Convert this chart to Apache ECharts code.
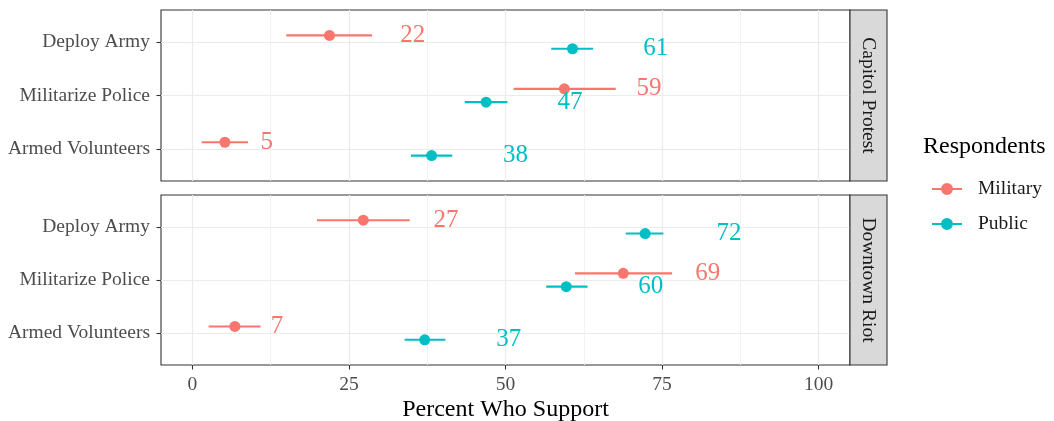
<!DOCTYPE html>
<html>
<head>
<meta charset="utf-8">
<script src="https://cdn.jsdelivr.net/npm/echarts@6/dist/echarts.min.js"></script>
<style>
html,body{margin:0;padding:0;background:#fff;}
#chart{width:1054px;height:421px;}
</style>
</head>
<body>
<div id="chart"></div>
<script>
// ---- data ----
const categories = ['Deploy Army', 'Militarize Police', 'Armed Volunteers'];
const panels = ['Capitol Protest', 'Downtown Riot'];
const groups = ['Military', 'Public'];
const xTicks = [0, 25, 50, 75, 100];
const xMinorTicks = [12.5, 37.5, 62.5, 87.5];

// Capitol Protest
const capMilitary   = [21.9, 59.4, 5.2];
const capMilitaryLo = [15.0, 51.3, 1.5];
const capMilitaryHi = [28.7, 67.6, 8.9];
const capMilitaryLabelX = [35.2, 72.9, 11.9];
const capPublic   = [60.7, 46.9, 38.2];
const capPublicLo = [57.3, 43.5, 34.9];
const capPublicHi = [64.0, 50.3, 41.5];
const capPublicLabelX = [74.0, 60.3, 51.6];

// Downtown Riot
const riotMilitary   = [27.3, 68.8, 6.8];
const riotMilitaryLo = [19.9, 61.1, 2.6];
const riotMilitaryHi = [34.7, 76.6, 10.9];
const riotMilitaryLabelX = [40.5, 82.3, 13.5];
const riotPublic   = [72.3, 59.7, 37.1];
const riotPublicLo = [69.2, 56.5, 33.9];
const riotPublicHi = [75.2, 63.1, 40.4];
const riotPublicLabelX = [85.7, 73.2, 50.5];

// ---- styling ----
const colors = { Military: '#F8766D', Public: '#00BFC4' };
const FONT = 'Liberation Serif, Times New Roman, serif';
const dodge = { Military: -0.125, Public: 0.125 };

const panelData = [
  { Military: [capMilitary, capMilitaryLo, capMilitaryHi, capMilitaryLabelX],
    Public:   [capPublic, capPublicLo, capPublicHi, capPublicLabelX] },
  { Military: [riotMilitary, riotMilitaryLo, riotMilitaryHi, riotMilitaryLabelX],
    Public:   [riotPublic, riotPublicLo, riotPublicHi, riotPublicLabelX] }
];

const gridBoxes = [
  { left: 161, top: 10, width: 689, height: 171 },
  { left: 161, top: 195, width: 689, height: 170 }
];

const grids = gridBoxes.map(g => Object.assign({
  show: true, borderColor: '#333333', borderWidth: 1.1,
  backgroundColor: 'transparent', containLabel: false, outerBoundsMode: 'none'
}, g));

const xAxes = [];
const yAxes = [];
gridBoxes.forEach((g, p) => {
  const isBottom = p === gridBoxes.length - 1;
  xAxes.push({
    type: 'value', gridIndex: p, min: -5, max: 105,
    axisLine: { show: false, onZero: false },
    axisTick: { show: isBottom, customValues: xTicks, length: 4.5, lineStyle: { color: '#333333', width: 1.1 } },
    axisLabel: { show: isBottom, customValues: xTicks, color: '#4d4d4d', fontSize: 19.5, fontFamily: FONT, margin: 10 },
    splitLine: { show: true, lineStyle: { color: '#ebebeb', width: 1.2 } },
    name: isBottom ? 'Percent Who Support' : '',
    nameLocation: 'middle', nameGap: 33,
    nameTextStyle: { color: '#000', fontSize: 24, fontFamily: FONT }
  });
  xAxes.push({
    type: 'value', gridIndex: p, min: -5, max: 105, position: 'top',
    axisLine: { show: false, onZero: false },
    axisTick: { show: false, customValues: xMinorTicks },
    axisLabel: { show: false, customValues: xMinorTicks },
    splitLine: { show: true, lineStyle: { color: '#f0f0f0', width: 0.9 } }
  });
  yAxes.push({
    type: 'value', gridIndex: p, min: 0.4, max: 3.6, inverse: true,
    axisLine: { show: false, onZero: false },
    axisTick: { show: true, customValues: [1, 2, 3], length: 4.5, lineStyle: { color: '#333333', width: 1.1 } },
    axisLabel: {
      show: true, customValues: [1, 2, 3], color: '#4d4d4d', fontSize: 19.5, fontFamily: FONT, margin: 11,
      formatter: v => categories[Math.round(v) - 1] || ''
    },
    splitLine: { show: true, lineStyle: { color: '#ebebeb', width: 1.2 } }
  });
});

const series = [];
panelData.forEach((pd, p) => {
  groups.forEach(gname => {
    const [vals, lo, hi, lx] = pd[gname];
    const color = colors[gname];
    const yOf = i => i + 1 + dodge[gname];
    series.push({
      type: 'custom', name: gname, xAxisIndex: p * 2, yAxisIndex: p,
      itemStyle: { color },
      z: 2,
      data: categories.map((c, i) => [lo[i], hi[i], yOf(i)]),
      renderItem: (params, api) => {
        const a = api.coord([api.value(0), api.value(2)]);
        const b = api.coord([api.value(1), api.value(2)]);
        return { type: 'line', shape: { x1: a[0], y1: a[1], x2: b[0], y2: b[1] },
                 style: { stroke: color, lineWidth: 2.2 } };
      }
    });
    series.push({
      type: 'scatter', name: gname, xAxisIndex: p * 2, yAxisIndex: p,
      itemStyle: { color, opacity: 1 }, symbol: 'circle', symbolSize: 11, z: 3,
      emphasis: { disabled: true },
      data: categories.map((c, i) => [vals[i], yOf(i)])
    });
    series.push({
      type: 'custom', name: gname, xAxisIndex: p * 2, yAxisIndex: p,
      itemStyle: { color }, z: 4,
      data: categories.map((c, i) => [lx[i], yOf(i), Math.round(vals[i])]),
      renderItem: (params, api) => {
        const pt = api.coord([api.value(0), api.value(1)]);
        return { type: 'text', x: pt[0], y: pt[1],
                 style: { text: String(api.value(2)), fill: color, fontSize: 25, fontFamily: FONT,
                          align: 'center', verticalAlign: 'middle' } };
      }
    });
  });
});

const graphics = [];
gridBoxes.forEach((g, p) => {
  graphics.push({
    type: 'rect', shape: { x: g.left + g.width, y: g.top, width: 37, height: g.height },
    style: { fill: '#d9d9d9', stroke: '#333333', lineWidth: 1.1 }, z: 10
  });
  graphics.push({
    type: 'text', x: g.left + g.width + 18.5, y: g.top + g.height / 2, rotation: -Math.PI / 2,
    style: { text: panels[p], fill: '#1a1a1a', fontSize: 19.5, fontFamily: FONT,
             align: 'center', verticalAlign: 'middle' }, z: 11
  });
});
graphics.push({
  type: 'text', x: 923, y: 147,
  style: { text: 'Respondents', fill: '#000', fontSize: 24, fontFamily: FONT, align: 'left', verticalAlign: 'middle' }
});

const chart = echarts.init(document.getElementById('chart'), null, { renderer: 'canvas' });
chart.setOption({
  animation: false,
  backgroundColor: '#ffffff',
  grid: grids,
  xAxis: xAxes,
  yAxis: yAxes,
  legend: {
    data: groups, orient: 'vertical', left: 927, top: 174, itemGap: 15,
    itemWidth: 30, itemHeight: 12, selectedMode: false,
    icon: 'path://M0,5 L30,5 L30,7 L0,7 Z M21,6 A6,6 0 1,1 9,6 A6,6 0 1,1 21,6 Z',
    textStyle: { color: '#1a1a1a', fontSize: 19.5, fontFamily: FONT, padding: [0, 0, 0, 11] }
  },
  graphic: graphics,
  series
});
</script>
</body>
</html>
